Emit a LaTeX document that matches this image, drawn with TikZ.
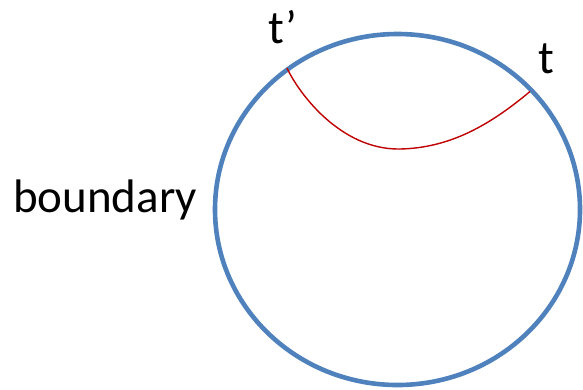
\documentclass[tikz,border=0pt]{standalone}
\usepackage{fontspec}
\setmainfont{Carlito}
\definecolor{circblue}{RGB}{79,129,189}
\definecolor{curvered}{RGB}{192,0,0}
\begin{document}
\begin{tikzpicture}[x=1pt,y=-1pt,
  lbl/.style={inner sep=0pt,font=\fontsize{47}{47}\selectfont}]
\useasboundingbox (0,0) rectangle (583,389);
\draw[circblue,line width=4.6pt] (397.5,209.5) ellipse [x radius=182.5, y radius=175.5];
\coordinate (tp) at (287,68);
\coordinate (t) at (530,91.5);
\draw[curvered,line width=1.4pt] (tp) .. controls (298,92) and (340,150) .. (400,149)
  .. controls (450,148) and (490,125) .. (t);
\node[lbl,anchor=base] (tlab) at (283,43) {t’};
\node[lbl,anchor=base] (tlab2) at (546.5,73) {t};
\node[lbl,anchor=base west] (blab) at (13,212) {boundary};
\end{tikzpicture}
\end{document}
